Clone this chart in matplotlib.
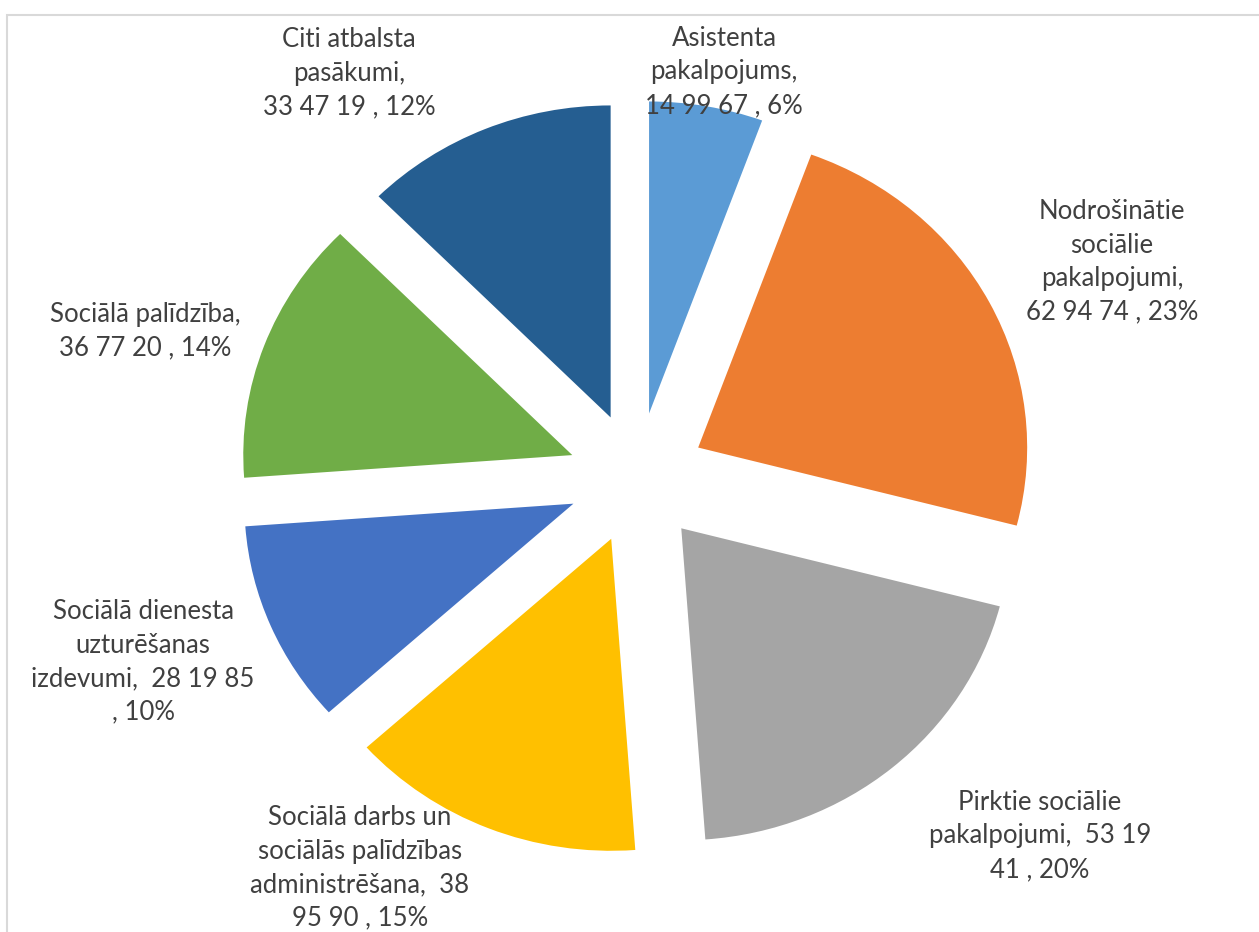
import matplotlib
matplotlib.use('Agg')
import matplotlib.pyplot as plt
from matplotlib.patches import Rectangle

# data: clockwise from 12 o'clock
categories = ['Asistenta pakalpojums', 'Nodrošinātie sociālie pakalpojumi',
              'Pirktie sociālie pakalpojumi',
              'Sociālā darbs un sociālās palīdzības administrēšana',
              'Sociālā dienesta uzturēšanas izdevumi', 'Sociālā palīdzība',
              'Citi atbalsta pasākumi']
values = [149967, 629474, 531941, 389590, 281985, 367720, 334719]
label_texts = ['Asistenta\npakalpojums,\n14 99 67 , 6%',
               'Nodrošinātie\nsociālie\npakalpojumi,\n62 94 74 , 23%',
               'Pirktie sociālie\npakalpojumi,  53 19\n41 , 20%',
               'Sociālā darbs un\nsociālās palīdzības\nadministrēšana,  38\n95 90 , 15%',
               'Sociālā dienesta\nuzturēšanas\nizdevumi,  28 19 85\n, 10%',
               'Sociālā palīdzība,\n36 77 20 , 14%',
               'Citi atbalsta\npasākumi,\n33 47 19 , 12%']
colors = ['#5B9BD5', '#ED7D31', '#A5A5A5', '#FFC000', '#4472C4', '#70AD47', '#255E91']

# layout (pixels); the source image is slightly stretched horizontally
W, H = 1259, 932
CX, CY, RX, RY = 637, 478, 329, 312
label_pos_px = [(724, 72), (1112, 262), (1040, 836), (360, 868),
                (143, 662), (145, 331), (349, 73)]

fig = plt.figure(figsize=(W / 100, H / 100), dpi=100)
ax = fig.add_axes([0, 0, 1, 1])
ax.pie(values, colors=colors, startangle=90, counterclock=False,
       explode=[0.21] * len(values), radius=1, center=(0, 0),
       wedgeprops=dict(linewidth=0))
ax.set_aspect('auto')
ax.set_xlim(-CX / RX, (W - CX) / RX)
ax.set_ylim(-(H - CY) / RY, CY / RY)
ax.axis('off')

for txt, (px, py) in zip(label_texts, label_pos_px):
    ax.text((px - CX) / RX, (CY - py) / RY, txt, ha='center', va='center',
            fontsize=18.5, family=['Lato', 'DejaVu Sans'], color='#404040',
            linespacing=1.42, zorder=5)

# chart frame (only top/left edges visible in crop)
fig.add_artist(Rectangle((7 / W, -0.1), 1.2, (H - 15) / H + 0.1,
                         transform=fig.transFigure, fill=False,
                         edgecolor='#d9d9d9', linewidth=1.5))

fig.savefig('out.png', dpi=100)
